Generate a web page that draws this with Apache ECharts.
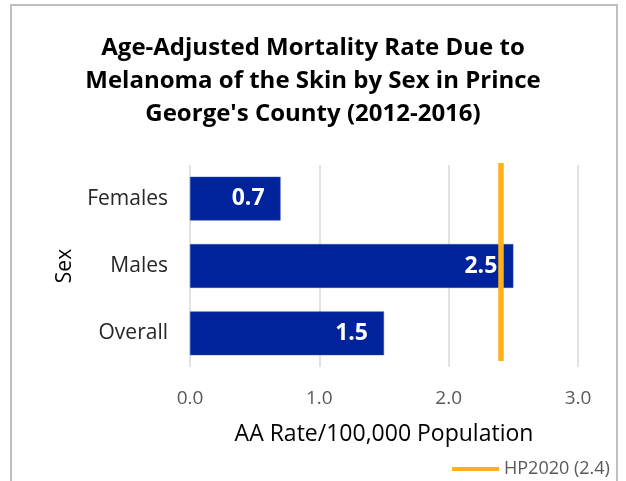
<!DOCTYPE html>
<html><head><meta charset="utf-8">
<script src="https://cdn.jsdelivr.net/npm/echarts@6/dist/echarts.min.js"></script>
<style>
html,body{margin:0;padding:0;background:#fff;}
#frame{position:absolute;left:10px;top:4px;width:608px;height:490px;border:2px solid #bfbfbf;box-sizing:border-box;}
#c{position:absolute;left:0;top:0;width:626px;height:481px;}
</style></head>
<body>
<div id="frame"></div>
<div id="c"></div>
<script>
const categories = ['Overall', 'Males', 'Females'];
const rates = [1.5, 2.5, 0.7];
const hpTarget = 2.4;
const hpName = 'HP2020 (2.4)';
const xTicks = [0, 1, 2, 3];

const chart = echarts.init(document.getElementById('c'));
const font = 'Open Sans';
chart.setOption({
  animation: false,
  title: {
    text: "Age-Adjusted Mortality Rate Due to\nMelanoma of the Skin by Sex in Prince\nGeorge's County (2012-2016)",
    left: 'center', top: 27,
    textStyle: {fontFamily: font, fontSize: 24, fontWeight: 'bold', color: '#000', lineHeight: 33}
  },
  legend: {
    data: [{name: hpName, icon: 'rect'}],
    left: 447, top: 455, itemWidth: 47, itemHeight: 4, itemGap: 2,
    textStyle: {fontFamily: font, fontSize: 18, color: '#595959'}
  },
  grid: {left: 190, right: 48, top: 165, bottom: 114, containLabel: false},
  xAxis: {
    type: 'value', min: 0, max: 3, interval: 1,
    name: 'AA Rate/100,000 Population', nameLocation: 'middle', nameGap: 56,
    nameTextStyle: {fontFamily: font, fontSize: 23, color: '#000'},
    axisLine: {show: false}, axisTick: {show: false},
    axisLabel: {fontFamily: font, fontSize: 19, color: '#595959', margin: 22,
      formatter: v => xTicks.includes(v) ? v.toFixed(1) : ''},
    splitLine: {lineStyle: {color: '#d9d9d9', width: 1.5}}
  },
  yAxis: {
    type: 'category', data: categories,
    name: 'Sex', nameLocation: 'middle', nameGap: 114, nameRotate: 90,
    nameTextStyle: {fontFamily: font, fontSize: 21, color: '#000'},
    axisLine: {show: false}, axisTick: {show: false},
    axisLabel: {fontFamily: font, fontSize: 21, color: '#262626', margin: 22}
  },
  series: [{
    type: 'bar', name: 'Rate', data: rates, barCategoryGap: '35%',
    itemStyle: {color: '#00239C', borderColor: '#3050b0', borderWidth: 0.5},
    label: {show: true, position: 'insideRight', distance: 16,
      formatter: p => p.value.toFixed(1),
      fontFamily: font, fontSize: 23, fontWeight: 'bold', color: '#fff'}
  }, {
    type: 'line', name: hpName, data: [],
    itemStyle: {color: '#FFB01A'},
    lineStyle: {color: '#FFB01A', width: 4},
    markLine: {
      silent: true, symbol: ['none', 'none'], label: {show: false},
      lineStyle: {color: '#FFB01A', width: 5.5, type: 'solid'},
      data: [[{coord: [hpTarget, 0], y: 163}, {coord: [hpTarget, 0], y: 361}]]
    }
  }]
});
</script>
</body></html>
